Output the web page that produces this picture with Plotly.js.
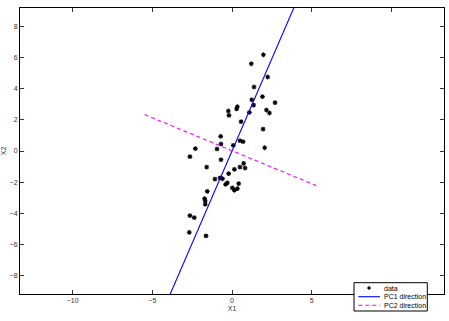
<!DOCTYPE html>
<html>
<head>
<meta charset="utf-8">
<script src="https://cdn.plot.ly/plotly-3.0.1.min.js"></script>
<style>html,body{margin:0;padding:0;background:#fff;}#chart{width:449px;height:321px;}</style>
</head>
<body>
<div id="chart"></div>
<script>
// data points (X1, X2)
const dataX1 = [1.97, 1.21, 2.24, 1.38, 1.91, 1.24, 2.70, 1.36, 0.34, 0.29,
  -0.23, -0.19, 2.16, 2.35, 1.09, 0.57, 1.95, -0.71, -0.69, 0.50,
  0.69, 0.08, -0.94, 2.05, -2.30, -2.64, -0.69, -1.59, 0.73, 0.50,
  0.82, 0.15, -0.21, -1.07, -0.75, -0.59, -0.29, -0.40, 0.42, 0.02,
  0.15, 0.34, -1.55, -1.72, -1.68, -1.68, -2.64, -2.37, -2.68, -1.63];
const dataX2 = [6.18, 5.60, 4.75, 4.11, 3.49, 3.29, 3.10, 2.95, 2.84, 2.70,
  2.57, 2.29, 2.63, 2.44, 2.48, 1.88, 1.41, 0.94, 0.45, 0.66,
  0.60, 0.36, 0.13, 0.21, 0.15, -0.36, -0.56, -1.03, -0.79, -1.03,
  -1.09, -1.18, -1.45, -1.80, -1.73, -1.78, -2.05, -2.14, -2.10, -2.37,
  -2.52, -2.42, -2.59, -3.06, -3.21, -3.42, -4.15, -4.28, -5.22, -5.45];
// principal direction line endpoints
const pc1X = [-3.95, 3.95];
const pc1Y = [-9.36, 9.36];
const pc2X = [-5.48, 5.28];
const pc2Y = [2.34, -2.22];
const legendLabels = ['data', 'PC1 direction', 'PC2 direction'];
const xTickVals = [-10, -5, 0, 5, 10];
const xTickText = ['\u221210', '\u22125', '0', '5', ''];
const yTickVals = [-8, -6, -4, -2, 0, 2, 4, 6, 8];

const M = {l: 20, r: 5, t: 8, b: 27};
const W = 449, H = 321;
const pw = W - M.l - M.r, ph = H - M.t - M.b;
const px = v => (v - M.l) / pw;
const py = v => (H - M.b - v) / ph;

const traces = [
  {x: dataX1, y: dataX2, mode: 'markers', name: legendLabels[0], showlegend: false,
   marker: {symbol: 'asterisk-open', size: 4, color: '#000', line: {color: '#000', width: 1.1}}},
  {x: pc1X, y: pc1Y, mode: 'lines', name: legendLabels[1], showlegend: false,
   line: {color: '#0000ff', width: 1.1}},
  {x: pc2X, y: pc2Y, mode: 'lines', name: legendLabels[2], showlegend: false,
   line: {color: '#ff00ff', width: 1.1, dash: '4px,3px'}}
];

const tickFont = {family: 'Liberation Sans, Arial, sans-serif', size: 7, color: '#333'};
const axBase = {
  showgrid: false, zeroline: false, showline: true, mirror: 'ticks',
  linecolor: '#000', linewidth: 1, ticks: 'inside', ticklen: 4, tickcolor: '#000',
  tickwidth: 0.8, tickfont: tickFont
};

const legFont = {family: 'Liberation Sans, Arial, sans-serif', size: 7, color: '#000'};
const rows = [288, 296.7, 305.3];
const shapes = [
  {type: 'rect', xref: 'paper', yref: 'paper', x0: px(354), x1: px(427.3), y0: py(311), y1: py(282.7),
   line: {color: '#000', width: 1}, fillcolor: '#fff', layer: 'above'},
  {type: 'circle', xref: 'paper', yref: 'paper', x0: px(367.7), x1: px(370.3), y0: py(rows[0] + 1.3), y1: py(rows[0] - 1.3),
   line: {color: '#000', width: 0.8}, fillcolor: '#000', layer: 'above'},
  {type: 'line', xref: 'paper', yref: 'paper', x0: px(358.3), x1: px(380), y0: py(rows[1]), y1: py(rows[1]),
   line: {color: '#0000ff', width: 1.1}, layer: 'above'},
  {type: 'line', xref: 'paper', yref: 'paper', x0: px(358.3), x1: px(380), y0: py(rows[2]), y1: py(rows[2]),
   line: {color: '#ff00ff', width: 1.1, dash: '4px,3px'}, layer: 'above'}
];
const annotations = legendLabels.map((t, i) => ({
  text: t, xref: 'paper', yref: 'paper', x: px(381.5), y: py(rows[i]), xanchor: 'left', yanchor: 'middle',
  showarrow: false, font: legFont
}));

const layout = {
  width: W, height: H, margin: {l: M.l, r: M.r, t: M.t, b: M.b, autoexpand: false},
  paper_bgcolor: '#fff', plot_bgcolor: '#fff', showlegend: false,
  xaxis: Object.assign({}, axBase, {range: [-13.3, 13.3], tickmode: 'array', tickvals: xTickVals, ticktext: xTickText,
    title: {text: 'X1', font: {family: 'Liberation Sans, Arial, sans-serif', size: 7, color: '#333'}, standoff: 2}}),
  yaxis: Object.assign({}, axBase, {range: [-9.18, 9.18], tickmode: 'array', tickvals: yTickVals,
    title: {text: 'X2', font: {family: 'Liberation Sans, Arial, sans-serif', size: 7, color: '#333'}, standoff: 2}}),
  shapes: shapes, annotations: annotations
};

Plotly.newPlot('chart', traces, layout, {displayModeBar: false, staticPlot: true});
</script>
</body>
</html>
